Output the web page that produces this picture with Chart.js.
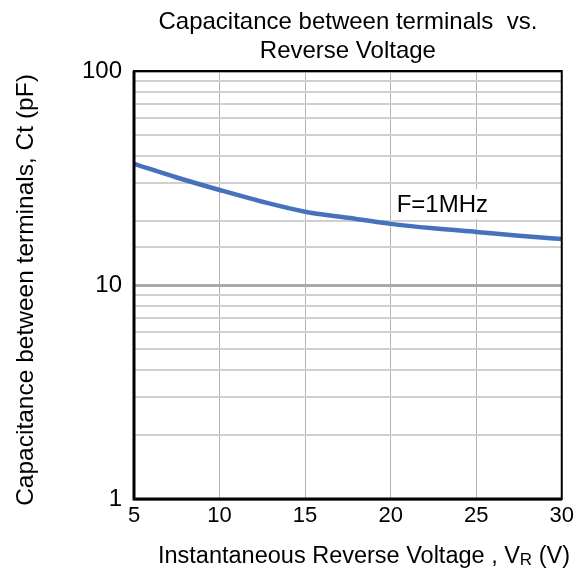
<!DOCTYPE html>
<html>
<head>
<meta charset="utf-8">
<script src="https://cdn.jsdelivr.net/npm/chart.js@4/dist/chart.umd.min.js"></script>
<style>
    html, body { margin: 0; padding: 0; background: #fff; }
    #wrap { width: 578px; height: 574px; }
</style>
</head>
<body>
<div id="wrap"><canvas id="chartRef" width="578" height="574"></canvas></div>
<script>
// data
const voltage = [5, 7.5, 10, 12.5, 15, 17.5, 20, 22.5, 25, 27.5, 30];
const capacitance = [36.8, 31.8, 27.8, 24.5, 22.0, 20.6, 19.3, 18.4, 17.7, 17.0, 16.4];
const xTicks = [5, 10, 15, 20, 25, 30];
const yTicks = [1, 10, 100];
const titleLines = ["Capacitance between terminals  vs.", "Reverse Voltage"];
const noteText = "F=1MHz";
const notePos = { x: 20.35, y: 23.9 };

const FONT = "'Liberation Sans', Arial, Helvetica, sans-serif";

document.addEventListener("DOMContentLoaded", () => {
    const ctx = document.getElementById("chartRef").getContext("2d");

    // titles, frame and the F=1MHz note
    const extrasPlugin = {
        id: "extras",
        afterDraw(chart) {
            const { ctx, chartArea: a, scales } = chart;
            const midX = (a.left + a.right) / 2;
            ctx.save();

            // frame
            ctx.strokeStyle = "#000";
            ctx.lineWidth = 2;
            ctx.strokeRect(a.left, a.top, a.right - a.left, a.bottom - a.top);
            ctx.lineWidth = 3;
            ctx.beginPath();
            ctx.moveTo(a.left, a.top);
            ctx.lineTo(a.left, a.bottom);
            ctx.lineTo(a.right, a.bottom);
            ctx.stroke();

            // chart title, centred over the plot
            ctx.fillStyle = "#000";
            ctx.font = `24px ${FONT}`;
            ctx.textAlign = "center";
            ctx.textBaseline = "middle";
            ctx.fillText(titleLines[0], midX, 22);
            ctx.fillText(titleLines[1], midX, 51);

            // note label with white box
            const nx = scales.x.getPixelForValue(notePos.x);
            const ny = scales.y.getPixelForValue(notePos.y);
            ctx.font = `24px ${FONT}`;
            const w = ctx.measureText(noteText).width;
            ctx.fillStyle = "#fff";
            ctx.fillRect(nx - 2, ny - 15, w + 4, 30);
            ctx.fillStyle = "#000";
            ctx.textAlign = "left";
            ctx.fillText(noteText, nx, ny + 1);

            // x axis title with subscript
            const main = "Instantaneous Reverse Voltage , V";
            const sub = "R";
            const tail = " (V)";
            ctx.font = `23.5px ${FONT}`;
            const wMain = ctx.measureText(main).width;
            const wTail = ctx.measureText(tail).width;
            ctx.font = `17px ${FONT}`;
            const wSub = ctx.measureText(sub).width;
            const total = wMain + wSub + wTail;
            let tx = 364 - total / 2;
            const ty = 563;
            ctx.textBaseline = "alphabetic";
            ctx.font = `23.5px ${FONT}`;
            ctx.fillText(main, tx, ty);
            tx += wMain;
            ctx.font = `17px ${FONT}`;
            ctx.fillText(sub, tx, ty + 2);
            tx += wSub;
            ctx.font = `23.5px ${FONT}`;
            ctx.fillText(tail, tx, ty);

            // y axis title
            ctx.translate(33, 290);
            ctx.rotate(-Math.PI / 2);
            ctx.textAlign = "center";
            ctx.font = `24.5px ${FONT}`;
            ctx.fillText("Capacitance between terminals, Ct (pF)", 0, 0);

            ctx.restore();
        },
    };

    new Chart(ctx, {
        type: "line",
        data: {
            labels: voltage,
            datasets: [
                {
                    data: voltage.map((v, i) => ({ x: v, y: capacitance[i] })),
                    borderColor: "#4672bd",
                    borderWidth: 4.5,
                    pointRadius: 0,
                    cubicInterpolationMode: "monotone",
                    fill: false,
                },
            ],
        },
        options: {
            responsive: false,
            animation: false,
            devicePixelRatio: 1,
            layout: { padding: { left: 0, right: 16, top: 71, bottom: 0 } },
            plugins: {
                legend: { display: false },
                tooltip: { enabled: false },
                title: { display: false },
            },
            scales: {
                x: {
                    type: "linear",
                    min: 5,
                    max: 30,
                    afterBuildTicks: (scale) => {
                        scale.ticks = xTicks.map((v) => ({ value: v }));
                    },
                    afterFit: (scale) => {
                        scale.height = 75;
                    },
                    grid: { color: "#b4b4b4", lineWidth: 1, drawTicks: false },
                    border: { display: false },
                    ticks: {
                        color: "#000",
                        padding: 4,
                        maxRotation: 0,
                        font: { family: FONT, size: 22 },
                    },
                },
                y: {
                    type: "logarithmic",
                    min: 1,
                    max: 100,
                    afterFit: (scale) => {
                        scale.width = 134;
                    },
                    grid: {
                        drawTicks: false,
                        color: (c) => (c.tick && yTicks.includes(c.tick.value) ? "#a8a8a8" : "#cfcfcf"),
                        lineWidth: (c) => (c.tick && yTicks.includes(c.tick.value) ? 3 : 2),
                    },
                    border: { display: false },
                    ticks: {
                        color: "#000",
                        padding: 12,
                        autoSkip: false,
                        font: { family: FONT, size: 24 },
                        callback: (v) => (yTicks.includes(v) ? String(v) : ""),
                    },
                },
            },
        },
        plugins: [extrasPlugin],
    });
});
</script>
</body>
</html>
